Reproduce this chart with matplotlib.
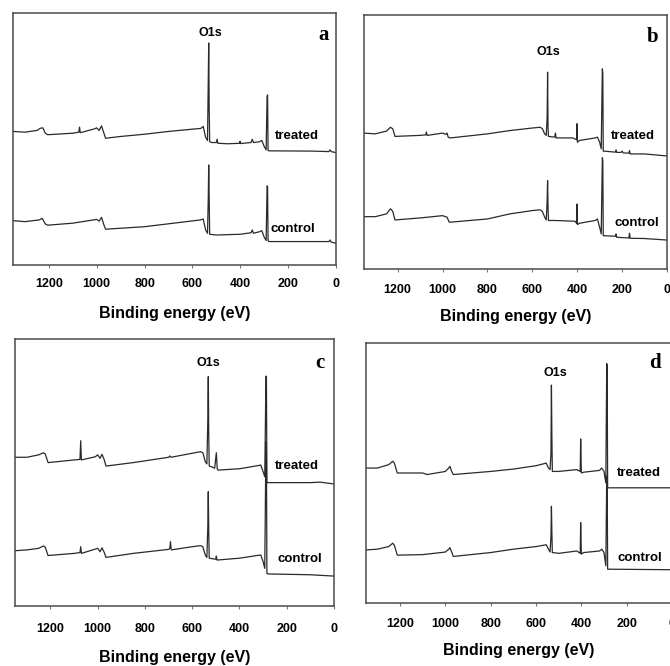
import matplotlib
matplotlib.use('Agg')
import matplotlib.pyplot as plt

# binding energy (eV), intensity (a.u., 0-100 per panel)
a_treated = [(1350, 53.0), (1300, 52.7), (1250, 53.4), (1235, 54.3), (1225, 54.4), (1215, 52.3),
             (1205, 51.7), (1100, 52.3), (1075, 52.7), (1072, 54.7), (1069, 52.5), (1010, 54.0),
             (1000, 54.4), (990, 53.4), (980, 55.2), (970, 52.3), (963, 50.3), (900, 51.0),
             (800, 51.9), (700, 53.0), (600, 53.9), (565, 54.2), (555, 55.0), (545, 50.7),
             (537, 49.4), (534, 72.2), (532, 88.1), (530, 61.6), (528, 49.0), (520, 48.6),
             (500, 48.6), (497, 49.9), (494, 48.3), (450, 48.1), (403, 48.3), (401, 49.1),
             (399, 48.2), (355, 48.6), (350, 49.9), (345, 48.6), (320, 48.9), (310, 49.4),
             (300, 47.0), (292, 45.7), (288, 66.9), (286, 67.5), (284, 45.4), (280, 45.3),
             (100, 45.2), (30, 45.0), (25, 45.7), (20, 45.0), (0, 44.6)]
a_control = [(1350, 17.6), (1300, 17.2), (1240, 17.9), (1228, 18.5), (1215, 16.3), (1205, 15.8),
             (1100, 16.6), (1000, 18.1), (990, 17.4), (980, 18.9), (970, 15.9), (963, 14.2),
             (800, 15.2), (600, 17.5), (565, 17.9), (555, 18.3), (545, 13.9), (537, 12.6),
             (534, 25.8), (532, 39.7), (530, 25.8), (528, 12.2), (500, 11.9), (400, 12.2),
             (355, 12.8), (350, 13.9), (345, 12.6), (320, 13.2), (310, 13.6), (300, 11.0),
             (292, 9.7), (288, 31.4), (286, 31.1), (284, 9.7), (280, 9.3), (30, 9.3),
             (25, 9.9), (20, 9.1), (0, 8.6)]

b_treated = [(1350, 53.5), (1300, 53.2), (1250, 54.3), (1232, 55.8), (1222, 55.2), (1212, 52.2),
             (1100, 52.6), (1075, 52.8), (1072, 53.9), (1069, 52.6), (1000, 53.5), (985, 53.0),
             (980, 53.5), (975, 51.9), (965, 51.6), (800, 53.2), (700, 54.5), (600, 55.5),
             (565, 55.8), (555, 55.2), (545, 53.2), (538, 52.6), (534, 59.8), (532, 77.5),
             (530, 55.8), (528, 52.2), (500, 51.9), (497, 53.5), (494, 51.6), (420, 51.6),
             (403, 50.9), (401, 57.2), (399, 49.9), (390, 50.6), (320, 51.6), (310, 51.9),
             (300, 49.9), (293, 47.3), (288, 78.8), (286, 76.9), (284, 46.4), (280, 46.4),
             (230, 46.0), (227, 46.9), (224, 45.9), (205, 45.9), (200, 46.4), (195, 45.7),
             (170, 45.6), (167, 46.6), (164, 45.3), (100, 45.3), (0, 44.5)]
b_control = [(1350, 20.6), (1300, 20.6), (1250, 21.7), (1232, 23.7), (1222, 22.7), (1212, 19.3),
             (1100, 20.1), (1000, 21.0), (980, 20.4), (970, 18.4), (800, 19.7), (700, 21.7),
             (600, 23.0), (565, 23.3), (555, 22.6), (545, 20.4), (538, 19.3), (534, 26.9),
             (532, 34.8), (530, 24.3), (528, 19.1), (500, 19.1), (410, 18.8), (403, 18.0),
             (401, 25.6), (399, 17.5), (390, 18.0), (320, 19.1), (310, 19.7), (300, 16.4),
             (293, 13.8), (288, 43.8), (286, 42.7), (284, 13.1), (280, 13.1), (230, 12.9),
             (227, 13.8), (224, 12.5), (170, 12.2), (167, 14.1), (164, 12.1), (100, 12.0),
             (0, 11.4)]

c_treated = [(1350, 55.7), (1300, 55.7), (1250, 56.6), (1230, 57.4), (1222, 56.9), (1210, 53.7),
             (1100, 54.7), (1075, 54.9), (1072, 61.9), (1069, 54.7), (1010, 55.9), (1000, 56.6),
             (990, 55.3), (982, 56.8), (972, 54.7), (965, 52.4), (850, 53.7), (700, 55.7),
             (695, 56.2), (690, 55.7), (600, 57.2), (565, 57.8), (555, 57.4), (545, 54.1),
             (538, 53.2), (534, 69.7), (532, 85.9), (530, 63.4), (528, 52.4), (520, 52.2),
             (505, 51.6), (498, 57.4), (494, 51.2), (490, 50.9), (400, 51.4), (320, 52.6),
             (310, 52.8), (300, 50.3), (293, 48.4), (288, 86.1), (286, 85.9), (284, 46.2),
             (280, 46.2), (100, 46.2), (60, 46.4), (0, 45.7)]
c_control = [(1350, 20.7), (1300, 21.0), (1250, 21.6), (1230, 22.5), (1222, 22.0), (1210, 18.9),
             (1100, 19.7), (1075, 20.0), (1072, 22.2), (1069, 19.7), (1000, 21.6), (990, 20.3),
             (982, 21.8), (972, 20.0), (965, 18.2), (850, 19.7), (700, 21.2), (695, 21.6),
             (692, 24.1), (689, 21.0), (600, 22.2), (565, 22.6), (555, 22.2), (545, 19.1),
             (538, 18.2), (534, 29.7), (532, 42.8), (530, 27.2), (528, 17.9), (500, 17.5),
             (498, 18.7), (495, 17.2), (400, 17.9), (320, 19.0), (310, 19.1), (300, 16.6),
             (293, 14.1), (288, 61.5), (286, 59.7), (284, 12.2), (280, 12.0), (100, 11.7),
             (0, 11.2)]

d_treated = [(1350, 51.9), (1300, 51.9), (1250, 53.2), (1232, 54.5), (1225, 53.8), (1212, 50.0),
             (1100, 50.0), (1080, 49.4), (1000, 50.6), (985, 51.9), (980, 52.6), (972, 50.6),
             (965, 49.4), (800, 50.6), (700, 51.5), (600, 52.8), (555, 53.8), (545, 51.9),
             (538, 51.3), (534, 57.7), (532, 83.8), (530, 64.0), (528, 50.6), (500, 50.6),
             (420, 51.3), (405, 50.6), (403, 63.1), (400, 50.0), (390, 50.3), (320, 51.0),
             (310, 51.9), (300, 50.6), (292, 46.2), (288, 92.1), (286, 90.8), (284, 44.3),
             (280, 44.3), (0, 44.3)]
d_control = [(1350, 20.4), (1300, 20.7), (1250, 21.7), (1232, 23.0), (1225, 22.2), (1212, 18.4),
             (1100, 18.6), (1000, 19.6), (985, 20.7), (980, 21.3), (972, 19.6), (965, 17.9),
             (800, 19.4), (700, 20.7), (600, 21.7), (555, 22.4), (545, 20.7), (538, 19.6),
             (534, 25.8), (532, 37.2), (530, 27.0), (528, 19.4), (500, 19.1), (420, 20.0),
             (405, 19.1), (403, 30.9), (400, 18.8), (390, 19.4), (320, 20.0), (310, 20.7),
             (300, 19.4), (292, 14.3), (288, 48.7), (286, 47.4), (284, 13.0), (280, 13.0),
             (0, 12.8)]

xticks = [1200, 1000, 800, 600, 400, 200, 0]

LINE = '#2a2a2a'
SANS = ['Liberation Sans', 'DejaVu Sans']


def draw_panel(ax, treated, control, letter, letter_pos, o1s_pos, treated_pos, control_pos,
               tickpad, labelpad):
    for trace in (treated, control):
        ax.plot([p[0] for p in trace], [p[1] for p in trace], color=LINE, lw=0.9)
    ax.set_xlim(1350, 0)
    ax.set_ylim(0, 100)
    ax.set_xticks(xticks)
    ax.set_xticklabels([str(t) for t in xticks], fontweight='bold', fontsize=9, family=SANS)
    ax.set_yticks([])
    ax.tick_params(axis='x', direction='out', length=2.5, width=0.8, color='#777777', pad=tickpad)
    for sp in ax.spines.values():
        sp.set_color('#4a4a4a')
        sp.set_linewidth(1.1)
    ax.set_xlabel('Binding energy (eV)', fontsize=11.5, fontweight='bold', family=SANS,
                  labelpad=labelpad)
    ax.text(*o1s_pos, 'O1s', ha='center', va='center', fontsize=9, fontweight='bold', family=SANS)
    ax.text(*treated_pos, 'treated', ha='center', va='center', fontsize=9.5, fontweight='bold',
            family=SANS)
    ax.text(*control_pos, 'control', ha='center', va='center', fontsize=9.5, fontweight='bold',
            family=SANS)
    ax.text(*letter_pos, letter, ha='center', va='center', fontsize=15, fontweight='bold',
            family=['Liberation Serif', 'DejaVu Serif'])


def main():
    fig = plt.figure(figsize=(6.7, 6.66), dpi=100)
    ax_a = fig.add_axes([0.0194, 0.6021, 0.4821, 0.3784])
    ax_b = fig.add_axes([0.5433, 0.5961, 0.4522, 0.3814])
    ax_c = fig.add_axes([0.0224, 0.0901, 0.4761, 0.4009])
    ax_d = fig.add_axes([0.5463, 0.0946, 0.4567, 0.3904])

    draw_panel(ax_a, a_treated, a_control, 'a', (54, 91.3), (527, 92.0), (163, 51.2), (180, 14.3),
               7, 11.5)
    draw_panel(ax_b, b_treated, b_control, 'b', (64, 91.5), (530, 85.4), (153, 52.4), (134, 18.2),
               8, 10)
    draw_panel(ax_c, c_treated, c_control, 'c', (59, 90.9), (533, 91.1), (157, 52.4), (144, 17.7),
               9.5, 11)
    draw_panel(ax_d, d_treated, d_control, 'd', (75, 92.4), (516, 88.3), (146, 50.1), (142, 17.2),
               8.5, 9)

    fig.savefig('out.png', dpi=100)


if __name__ == '__main__':
    main()
